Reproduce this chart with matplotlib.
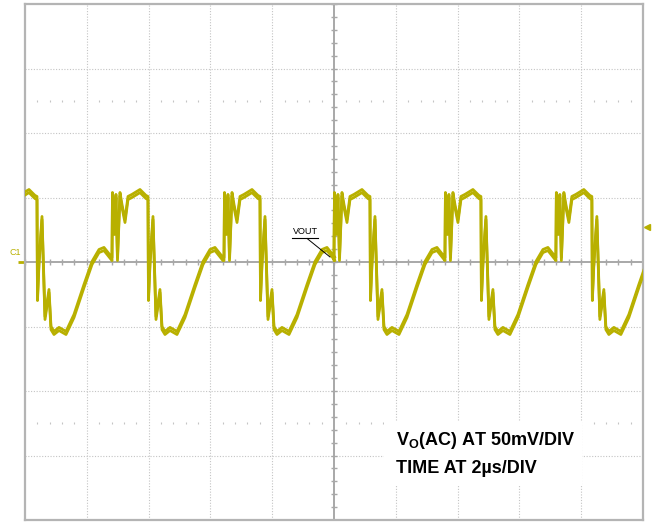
import matplotlib.pyplot as plt
import numpy as np
from matplotlib.patches import Rectangle

plt.rcParams['font.family'] = ['Liberation Sans', 'DejaVu Sans']
plt.rcParams['mathtext.fontset'] = 'custom'
plt.rcParams['mathtext.rm'] = 'Liberation Sans:bold'

# one period of the VOUT ripple (time from rising edge, mV)
shape_dt = [0.000, 0.016, 0.081, 0.129, 0.178, 0.259, 0.324, 0.421, 0.518, 0.647,
            0.906, 1.100, 1.165, 1.181, 1.230, 1.327, 1.424, 1.553, 1.618, 1.715,
            1.877, 2.104, 2.362, 2.686, 2.945, 3.172, 3.333, 3.592]
shape_mv = [2.3, 52.7, 22.5, 51.2, 2.3, 52.7, 43.4, 31.8, 49.6, 51.2,
            55.0, 50.4, 49.6, -28.7, -0.8, 34.1, -43.4, -22.5, -51.2, -55.0,
            -51.9, -55.0, -41.9, -18.6, -0.8, 8.5, 10.1, 2.3]
# rising edges on screen (us)
edge_us = [-0.777, 2.815, 6.440, 9.999, 13.59, 17.18]

us_per_div = 2
mv_per_div = 50
trig_mv = 27

t = np.concatenate([e + np.array(shape_dt) for e in edge_us])
v = np.concatenate([np.array(shape_mv) for e in edge_us])

olive = '#b8b000'
grid_c = '#c4c4c4'
axis_c = '#a8a8a8'

fig = plt.figure(figsize=(6.63, 5.22), dpi=100)
ax = fig.add_axes([25 / 663, 2 / 522, 618 / 663, 516 / 522])
ax.set_xlim(0, 10 * us_per_div)
ax.set_ylim(-4 * mv_per_div, 4 * mv_per_div)
ax.set_xticks([])
ax.set_yticks([])
for s in ax.spines.values():
    s.set_color('#b4b4b4')
    s.set_linewidth(1.6)

# graticule
for i in range(1, 10):
    if i != 5:
        ax.axvline(i * us_per_div, color=grid_c, lw=0.8, ls=(0, (1, 1.5)), zorder=1)
for j in range(-3, 4):
    if j != 0:
        ax.axhline(j * mv_per_div, color=grid_c, lw=0.8, ls=(0, (1, 1.5)), zorder=1)
ax.axhline(0, color=axis_c, lw=1.4, zorder=1)
ax.axvline(5 * us_per_div, color=axis_c, lw=1.4, zorder=1)

minor_x = np.arange(0, 10 * us_per_div + 0.01, us_per_div / 5)
minor_y = np.arange(-4 * mv_per_div, 4 * mv_per_div + 0.1, mv_per_div / 5)
ax.plot(minor_x, np.zeros_like(minor_x), ls='none', marker='|', ms=5, mew=1, color=axis_c, zorder=1)
ax.plot(np.full_like(minor_y, 5 * us_per_div), minor_y, ls='none', marker='_', ms=5, mew=1, color=axis_c, zorder=1)
dots_x = [x for x in minor_x if abs(x / us_per_div - round(x / us_per_div)) > 1e-6]
for yy in (2.5 * mv_per_div, -2.5 * mv_per_div):
    ax.plot(dots_x, np.full(len(dots_x), yy), ls='none', marker='|', ms=2, mew=0.8, color=grid_c, zorder=1)

# trace (two passes give the noise band on the slow parts)
ax.plot(t, v + 1.2, color=olive, lw=2.0, zorder=3)
ax.plot(t, v - 1.2, color=olive, lw=2.0, zorder=3)

# channel and trigger markers
ax.text(-0.33, 4, 'C1', color=olive, fontsize=6.5, ha='center', va='bottom', clip_on=False)
ax.plot([-0.22, 0], [0, 0], color=olive, lw=2, clip_on=False, solid_capstyle='butt')
ax.plot([20.13], [trig_mv], marker='<', ms=5, color=olive, clip_on=False)

# VOUT label
ax.text(9.06, 20.5, 'VOUT', fontsize=6.5, ha='center', va='bottom', zorder=4)
ax.plot([8.64, 9.48], [18.6, 18.6], color='black', lw=0.8, zorder=4)
ax.plot([9.13, 9.87], [18.2, 3.9], color='black', lw=0.7, zorder=4)

# scale box
ax.add_patch(Rectangle((0.581, 0.068), 0.320, 0.124, transform=ax.transAxes,
                       facecolor='white', edgecolor='none', zorder=2))
ax.text(0.600, 0.145, r'V$_{\mathrm{O}}$(AC) AT 50mV/DIV', transform=ax.transAxes,
        fontsize=13, fontweight='bold', va='baseline', zorder=5)
ax.text(0.600, 0.091, 'TIME AT 2\u00b5s/DIV', transform=ax.transAxes,
        fontsize=13, fontweight='bold', va='baseline', zorder=5)

fig.savefig('out.png', dpi=100)
